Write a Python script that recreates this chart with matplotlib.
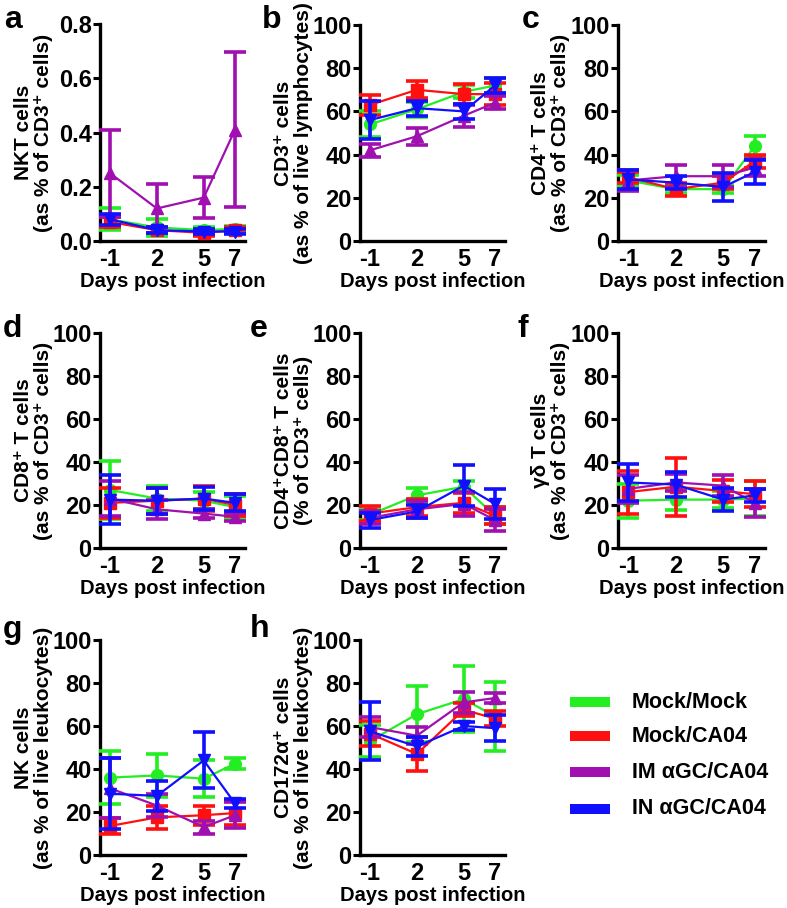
import matplotlib
matplotlib.use("Agg")
import matplotlib.pyplot as plt
from matplotlib.patches import Rectangle

plt.rcParams['font.family'] = ['Liberation Sans', 'DejaVu Sans']
plt.rcParams['font.weight'] = 'bold'

days = [-1, 2, 5, 7]
groups = ["Mock/Mock", "Mock/CA04", "IM \u03b1GC/CA04", "IN \u03b1GC/CA04"]
colors = ["#22EE22", "#FF1010", "#A010B0", "#1010FF"]
markers = ["o", "s", "^", "v"]

# group order: Mock/Mock, Mock/CA04, IM aGC/CA04, IN aGC/CA04
nkt_mean = [[0.08, 0.05, 0.04, 0.045], [0.07, 0.04, 0.03, 0.04],
            [0.25, 0.12, 0.16, 0.41], [0.08, 0.04, 0.035, 0.035]]
nkt_err = [[0.04, 0.03, 0.01, 0.01], [0.02, 0.01, 0.01, 0.01],
           [0.16, 0.09, 0.075, 0.285], [0.02, 0.01, 0.01, 0.01]]

cd3_mean = [[54, 61, 69, 72], [63, 70, 68, 68], [42, 48.5, 58, 64], [56, 61.5, 60, 72]]
cd3_err = [[6, 3.5, 3, 3.5], [4.5, 4, 4.5, 5], [3, 4, 5, 3], [9, 3.5, 3.5, 3.5]]

cd4_mean = [[28, 24, 24, 44], [29.5, 24, 27, 37], [28, 30, 30, 34], [28.5, 27, 25, 32]]
cd4_err = [[2.5, 2, 2, 4.5], [2.5, 3, 3, 3], [5, 5, 5, 4], [4.5, 3, 6.5, 5.5]]

cd8_mean = [[27, 23, 22, 19], [21, 22, 23, 20], [23, 18, 16, 14.5], [22.5, 22, 23, 21]]
cd8_err = [[13.5, 6, 4, 5], [7, 6, 6, 5], [8, 4.5, 2, 2], [11.5, 6, 5.5, 4]]

dp_mean = [[15.5, 24.5, 28.5, 15], [16, 19, 21, 15], [14, 18, 20.5, 13], [13, 17, 29, 20.5]]
dp_err = [[2.5, 3.5, 2.5, 4], [3.5, 4, 4.5, 4], [3, 4, 5.5, 5], [3.5, 3, 9.5, 7]]

gd_mean = [[22, 22.5, 22.5, 23], [26, 28.5, 26.5, 25], [27.5, 30.5, 29, 21], [30.5, 29.5, 22.5, 24.5]]
gd_err = [[8, 5, 4, 8], [10, 13.5, 5, 6], [6.5, 4, 5, 6.5], [8.5, 6, 5.5, 3]]

nk_mean = [[36, 37, 35.5, 42.5], [13.5, 17.5, 18.5, 19.5], [31, 23, 13, 18.5], [28.5, 27.5, 44, 24]]
nk_err = [[12.5, 10, 8.5, 2.5], [3.5, 5.5, 4.5, 5.5], [14, 5.5, 3, 6], [16.5, 7, 13, 2]]

cd172_mean = [[53, 65.5, 72.5, 64.5], [56.5, 47, 67.5, 63.5], [59.5, 55.5, 71, 73], [57.5, 50.5, 60, 59]]
cd172_err = [[7.5, 13, 15.5, 16], [6, 8, 3, 3.5], [4.5, 4, 5, 2.5], [13.5, 4.5, 2, 6]]

W, H = 787, 908
fig = plt.figure(figsize=(W / 100, H / 100), dpi=100)

def px_axes(left, top, right, bottom):
    return fig.add_axes([left / W, 1 - bottom / H, (right - left) / W, (bottom - top) / H])

FS_TICK = 17
FS_XLAB = 14.5
FS_YLAB = 15

panels = [
    ("a", (100, 24, 245, 241), nkt_mean, nkt_err, "NKT cells\n(as % of CD3\u207a cells)", 0.8, [0, 0.2, 0.4, 0.6, 0.8], ["0.0", "0.2", "0.4", "0.6", "0.8"]),
    ("b", (360, 25, 505, 241), cd3_mean, cd3_err, "CD3\u207a cells\n(as % of live lymphocytes)", 100, None, None),
    ("c", (618, 25, 765, 241), cd4_mean, cd4_err, "CD4\u207a T cells\n(as % of CD3\u207a cells)", 100, None, None),
    ("d", (100, 333, 245, 548), cd8_mean, cd8_err, "CD8\u207a T cells\n(as % of CD3\u207a cells)", 100, None, None),
    ("e", (360, 333, 505, 548), dp_mean, dp_err, "CD4\u207aCD8\u207a T cells\n(% of CD3\u207a cells)", 100, None, None),
    ("f", (618, 333, 765, 548), gd_mean, gd_err, "\u03b3\u03b4 T cells\n(as % of CD3\u207a cells)", 100, None, None),
    ("g", (100, 640, 245, 855), nk_mean, nk_err, "NK cells\n(as % of live leukocytes)", 100, None, None),
    ("h", (360, 640, 505, 855), cd172_mean, cd172_err, "CD172\u03b1\u207a cells\n(as % of live leukocytes)", 100, None, None),
]

letter_pos = {"a": (4, 28), "b": (262, 28), "c": (522, 28),
              "d": (3, 337), "e": (250, 337), "f": (518, 337),
              "g": (3, 638), "h": (250, 637)}

for letter, box, means, errs, ylabel, ymax, yt, ytl in panels:
    ax = px_axes(*box)
    for g in range(4):
        ax.errorbar(days, means[g], yerr=errs[g], color=colors[g], marker=markers[g],
                    markersize=8.5, linewidth=1.6, elinewidth=2.6, capsize=8, capthick=2.6,
                    zorder=3 + g, clip_on=False)
    ax.set_xlim(-1.64, 7.64)
    ax.set_ylim(0, ymax)
    if yt is None:
        ax.set_yticks([0, 20, 40, 60, 80, 100])
    else:
        ax.set_yticks(yt)
        ax.set_yticklabels(ytl)
    ax.set_xticks(days)
    ax.set_xticklabels(["-1", "2", "5", "7"])
    for s in ("top", "right"):
        ax.spines[s].set_visible(False)
    for s in ("left", "bottom"):
        ax.spines[s].set_linewidth(2.4)
    ax.tick_params(axis="y", length=5, width=2.2, labelsize=FS_TICK, pad=1)
    ax.tick_params(axis="x", length=0, labelsize=FS_TICK, pad=5)
    for lab in ax.get_xticklabels() + ax.get_yticklabels():
        lab.set_fontweight("bold")
    ax.set_xlabel("Days post infection", fontsize=FS_XLAB, fontweight="bold", labelpad=1)
    ax.set_ylabel(ylabel, fontsize=FS_YLAB, fontweight="bold", linespacing=1.05)
    ax.yaxis.set_label_coords(-0.325, 0.5)
    lx, ly = letter_pos[letter]
    fig.text(lx / W, 1 - ly / H, letter, fontsize=23, fontweight="bold", va="baseline", ha="left")

# legend
leg_rows = [702, 736, 772, 809]
for g in range(4):
    y = leg_rows[g]
    fig.patches.append(Rectangle((570 / W, 1 - (y + 5) / H), 40 / W, 10 / H,
                                 transform=fig.transFigure, facecolor=colors[g], edgecolor="none"))
    fig.text(632 / W, 1 - y / H, groups[g], fontsize=15.5, fontweight="bold", va="center", ha="left")

fig.savefig("out.png", dpi=100)
